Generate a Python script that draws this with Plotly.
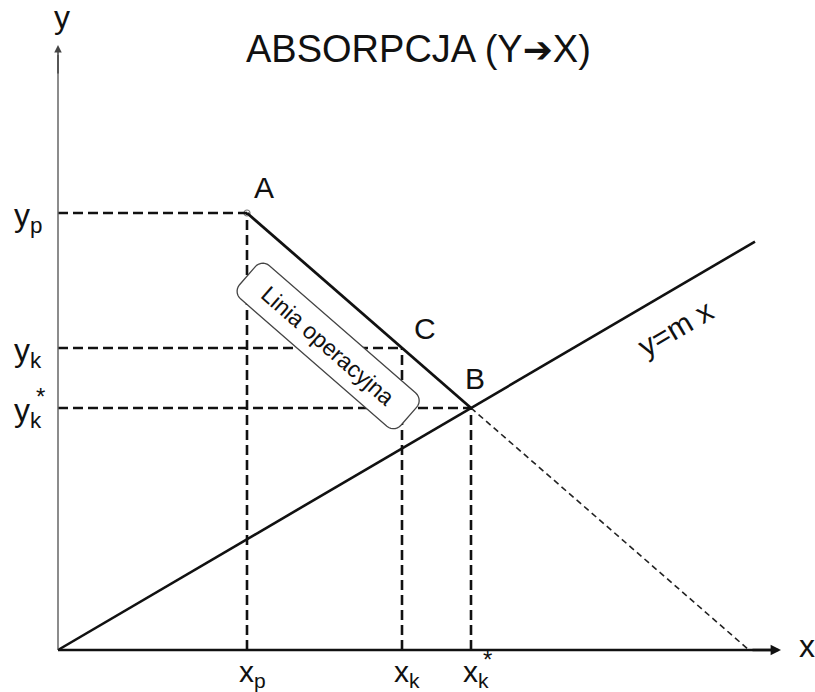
import numpy as np
import plotly.graph_objects as go

# Key compositions (arbitrary units)
x_p, x_k, x_k_star = 1.89, 3.44, 4.13
y_p, y_k, y_k_star = 4.37, 3.02, 2.42
m = y_k_star / x_k_star           # equilibrium line slope
eq_line_end = 6.97                # x where the equilibrium line stops
x_axis_end, y_axis_end = 7.23, 6.05

point_names = ["A", "C", "B"]
point_x = [x_p, x_k, x_k_star]
point_y = [y_p, y_k, y_k_star]

x_tick_text = ["x<sub>p</sub>", "x<sub>k</sub>", "x<sub>k</sub>"]
y_tick_text = ["y<sub>p</sub>", "y<sub>k</sub>", "y<sub>k</sub>"]

FONT = "Liberation Sans, Arial, sans-serif"
PX = 100.0  # pixels per data unit (both axes)

fig = go.Figure()

# operating line slope and its dashed continuation down to the x axis
slope_op = (y_p - y_k_star) / (x_k_star - x_p)
x_ext = x_k_star + y_k_star / slope_op

shapes = []
dash_main = dict(color="#111", width=2.6, dash="10px,5px")
# horizontal guides from the y axis
for yv, xv in zip(point_y, point_x):
    shapes.append(dict(type="line", x0=0, y0=yv, x1=xv, y1=yv, line=dash_main))
# vertical guides to the x axis
for yv, xv in zip(point_y, point_x):
    shapes.append(dict(type="line", x0=xv, y0=0, x1=xv, y1=yv, line=dash_main))
# continuation of the operating line
shapes.append(dict(type="line", x0=x_k_star, y0=y_k_star, x1=x_ext, y1=0,
                   line=dict(color="#222", width=1.6, dash="6px,4px")))
# equilibrium line y = m x
shapes.append(dict(type="line", x0=0, y0=0, x1=eq_line_end, y1=m * eq_line_end,
                   line=dict(color="#111", width=2.6)))
# operating line A-B
shapes.append(dict(type="line", x0=x_p, y0=y_p, x1=x_k_star, y1=y_k_star,
                   line=dict(color="#111", width=2.8)))

# rounded label box along the operating line
op_angle = float(np.degrees(np.arctan(slope_op)))
ang = -np.arctan(slope_op)
u = np.array([np.cos(ang), np.sin(ang)])
v = np.array([-u[1], u[0]])
mid = np.array([(x_p + x_k_star) / 2, (y_p + y_k_star) / 2])
center = mid - v * 0.47
hl, hw, r = 1.07, 0.22, 0.1
pts = []
corners = [(hl - r, hw - r, 0), (-hl + r, hw - r, 90), (-hl + r, -hw + r, 180), (hl - r, -hw + r, 270)]
for cx, cy, a0 in corners:
    for t in np.linspace(np.radians(a0), np.radians(a0 + 90), 8):
        lp = np.array([cx + r * np.cos(t), cy + r * np.sin(t)])
        p = center + u * lp[0] + v * lp[1]
        pts.append(p)
path = "M " + " L ".join(f"{p[0]:.4f},{p[1]:.4f}" for p in pts) + " Z"
shapes.append(dict(type="path", path=path, fillcolor="white",
                   line=dict(color="#444", width=1.3)))

# axes
shapes.append(dict(type="line", x0=0, y0=0, x1=0, y1=y_axis_end - 0.1,
                   line=dict(color="#666", width=1.5)))
shapes.append(dict(type="line", x0=0, y0=0, x1=x_axis_end - 0.1, y1=0,
                   line=dict(color="#111", width=2.6)))

annotations = []
# arrow heads
annotations.append(dict(x=0, y=y_axis_end, ax=0, ay=y_axis_end - 0.3, xref="x", yref="y",
                        axref="x", ayref="y", showarrow=True, arrowhead=2, arrowsize=1,
                        arrowwidth=1.5, arrowcolor="#444", text=""))
annotations.append(dict(x=x_axis_end, y=0, ax=x_axis_end - 0.3, ay=0, xref="x", yref="y",
                        axref="x", ayref="y", showarrow=True, arrowhead=2, arrowsize=0.8,
                        arrowwidth=2.6, arrowcolor="#111", text=""))

def label(text, x, y, size, xs=0, ys=0, angle=0, color="#111"):
    annotations.append(dict(x=x, y=y, xref="x", yref="y", text=text, showarrow=False,
                            xshift=xs, yshift=ys, textangle=angle,
                            font=dict(family=FONT, size=size, color=color)))

# axis names
label("y", 0, y_axis_end, 32, xs=4, ys=28)
label("x", x_axis_end, 0, 32, xs=26, ys=4)

# point letters
label("A", x_p, y_p, 30, xs=17, ys=26)
label("C", x_k, y_k, 30, xs=23, ys=20)
label("B", x_k_star, y_k_star, 30, xs=4, ys=30)

# tick labels on the y axis
for txt, yv in zip(y_tick_text, point_y):
    label(txt, 0, yv, 32, xs=-30, ys=-4)
label("*", 0, y_k_star, 24, xs=-18, ys=12)

# tick labels on the x axis
for txt, xv in zip(x_tick_text, point_x):
    label(txt, xv, 0, 30, xs=5, ys=-23)
label("*", x_k_star, 0, 24, xs=16, ys=-9)

# line names
label("Linia operacyjna", center[0], center[1], 23, angle=op_angle)
label("y=m x", 6.17, m * 6.17, 30, ys=-40, angle=-float(np.degrees(np.arctan(m))))

# title with a heavy arrow glyph
title_text = ("ABSORPCJA (Y<span style='font-family:DejaVu Sans;font-size:36px'>\u2794</span>X)")
annotations.append(dict(x=418 / 815, y=1 - 49 / 692, xref="paper", yref="paper",
                        xanchor="center", yanchor="middle",
                        text=title_text, showarrow=False,
                        font=dict(family=FONT, size=38, color="#111")))

# marker at point A
fig.add_trace(go.Scatter(x=[x_p], y=[y_p], mode="markers",
                         marker=dict(size=6, color="white", line=dict(color="#777", width=1.2)),
                         hoverinfo="skip", showlegend=False))

W, H = 815, 692
x0_px, y0_px = 58, 650
fig.update_layout(
    width=W, height=H, margin=dict(l=0, r=0, t=0, b=0),
    paper_bgcolor="white", plot_bgcolor="white",
    xaxis=dict(range=[-x0_px / PX, (W - x0_px) / PX], visible=False, fixedrange=True),
    yaxis=dict(range=[-(H - y0_px) / PX, y0_px / PX], visible=False, fixedrange=True),
    shapes=shapes, annotations=annotations, showlegend=False,
)

fig.write_html("out.html")
